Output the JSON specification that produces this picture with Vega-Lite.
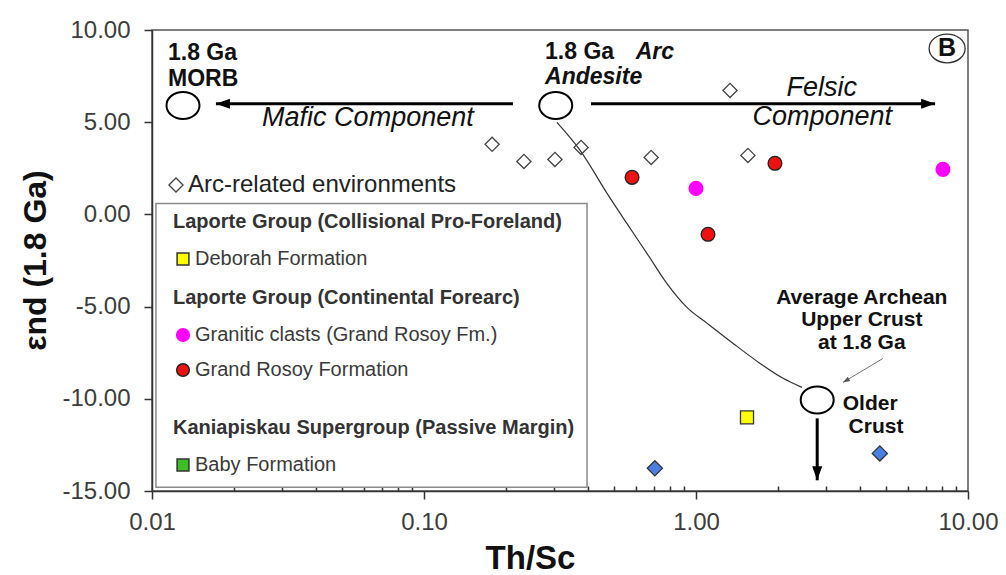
{
  "$schema": "https://vega.github.io/schema/vega-lite/v6.json",
  "width": 816,
  "height": 461,
  "autosize": {"type": "none"},
  "padding": {"left": 152, "top": 30, "right": 38, "bottom": 84},
  "background": "white",
  "config": {"font": "Liberation Sans", "view": {"stroke": "#555", "strokeWidth": 1.5}},
  "resolve": {"scale": {"fill": "independent", "stroke": "independent"}},
  "datasets": {
    "legendframe": [{"x": 0.01034, "x2": 0.3975, "y": 0.597, "y2": -14.8}],
    "curve": [
      {"x": 0.308, "y": 4.99}, {"x": 0.375, "y": 3.47}, {"x": 0.471, "y": 1.14}, {"x": 0.557, "y": -0.49},
      {"x": 0.66, "y": -2.11}, {"x": 0.781, "y": -3.74}, {"x": 0.926, "y": -5.04}, {"x": 1.1, "y": -5.91},
      {"x": 1.37, "y": -7.0}, {"x": 1.72, "y": -8.08}, {"x": 2.09, "y": -8.89}, {"x": 2.45, "y": -9.38}
    ],
    "arrows": [
      {"arrow": "mafic", "x": 0.2123, "y": 6.0, "x2": 0.01718, "y2": 6.0},
      {"arrow": "felsic", "x": 0.411, "y": 6.0, "x2": 7.57, "y2": 6.0},
      {"arrow": "down", "x": 2.79, "y": -11.06, "x2": 2.79, "y2": -14.42},
      {"arrow": "pointer", "x": 4.87, "y": -7.81, "x2": 3.47, "y2": -9.11}
    ],
    "endmembers": [
      {"name": "1.8 Ga MORB", "x": 0.013, "y": 5.91},
      {"name": "1.8 Ga Arc Andesite", "x": 0.305, "y": 5.91},
      {"name": "Older Crust", "x": 2.79, "y": -10.06}
    ],
    "samples": [
      {"series": "Deborah Formation", "x": 1.54, "y": -11.01},
      {"series": "Granitic clasts (Grand Rosoy Fm.)", "x": 1.0, "y": 1.41},
      {"series": "Granitic clasts (Grand Rosoy Fm.)", "x": 8.09, "y": 2.44},
      {"series": "Grand Rosoy Formation", "x": 0.582, "y": 2.01},
      {"series": "Grand Rosoy Formation", "x": 1.107, "y": -1.08},
      {"series": "Grand Rosoy Formation", "x": 1.951, "y": 2.77}
    ],
    "arc": [
      {"series": "Arc-related environments", "x": 0.178, "y": 3.8},
      {"series": "Arc-related environments", "x": 0.233, "y": 2.87},
      {"series": "Arc-related environments", "x": 0.303, "y": 2.98},
      {"series": "Arc-related environments", "x": 0.378, "y": 3.63},
      {"series": "Arc-related environments", "x": 0.684, "y": 3.09},
      {"series": "Arc-related environments", "x": 1.334, "y": 6.72},
      {"series": "Arc-related environments", "x": 1.552, "y": 3.2}
    ],
    "blue": [
      {"x": 0.706, "y": -13.77},
      {"x": 4.74, "y": -12.96}
    ],
    "bold": [
      {"x": 0.01145, "y": 8.73, "label": "1.8 Ga"},
      {"x": 0.01145, "y": 7.32, "label": "MORB"},
      {"x": 0.2786, "y": 8.79, "label": "1.8 Ga"}
    ],
    "bolditalic": [
      {"x": 0.6, "y": 8.79, "label": "Arc"},
      {"x": 0.2786, "y": 7.43, "label": "Andesite"}
    ],
    "italic": [
      {"x": 0.0622, "y": 5.21, "label": "Mafic Component"},
      {"x": 2.9, "y": 6.83, "label": "Felsic"},
      {"x": 2.91, "y": 5.26, "label": "Component"}
    ],
    "crust": [
      {"x": 4.07, "y": -4.56, "label": "Average Archean"},
      {"x": 4.07, "y": -5.75, "label": "Upper Crust"},
      {"x": 4.07, "y": -7.0, "label": "at 1.8 Ga"},
      {"x": 4.37, "y": -10.3, "label": "Older"},
      {"x": 4.59, "y": -11.55, "label": "Crust"}
    ],
    "panel": [{"x": 8.38, "y": 9.0, "label": "B"}]
  },
  "encoding": {
    "x": {
      "field": "x", "type": "quantitative",
      "scale": {"type": "log", "domain": [0.01, 10], "nice": false},
      "axis": {
        "values": [0.01,0.02,0.03,0.04,0.05,0.06,0.07,0.08,0.09,0.1,0.2,0.3,0.4,0.5,0.6,0.7,0.8,0.9,1,2,3,4,5,6,7,8,9,10],
        "labelExpr": "indexof([0.01,0.1,1,10], datum.value) >= 0 ? format(datum.value, '.2f') : ''",
        "labelOverlap": false, "labelFlush": false,
        "tickSize": {"condition": {"test": "indexof([0.01,0.1,1,10], datum.value) >= 0", "value": 8}, "value": -5},
        "tickColor": "#333", "tickWidth": 1.5, "domainColor": "#333", "domainWidth": 1.5,
        "labelFontSize": 24, "labelColor": "#3c3c3c", "labelPadding": 11,
        "grid": false,
        "title": "Th/Sc", "titleFontSize": 33, "titleFontWeight": "bold", "titleColor": "#111",
        "titleX": 378, "titleY": 67, "titleAlign": "center", "titleBaseline": "middle"
      }
    },
    "y": {
      "field": "y", "type": "quantitative",
      "scale": {"domain": [-15, 10], "nice": false, "zero": false},
      "axis": {
        "values": [-15, -10, -5, 0, 5, 10],
        "labelExpr": "(datum.value < 0 ? '-' : '') + format(abs(datum.value), '.2f')",
        "tickSize": 8, "tickColor": "#333", "tickWidth": 1.5, "domainColor": "#333", "domainWidth": 1.5,
        "labelFontSize": 24, "labelColor": "#3c3c3c", "labelPadding": 14,
        "grid": false,
        "title": "εnd (1.8 Ga)", "titleFontSize": 32, "titleFontWeight": "bold", "titleColor": "#111",
        "titleX": -117, "titleY": 230, "titleAngle": 270, "titleAlign": "center", "titleBaseline": "middle"
      }
    }
  },
  "layer": [
    {
      "data": {"name": "legendframe"},
      "mark": {"type": "rect", "fill": "white", "stroke": "#8a8a8a", "strokeWidth": 1.5},
      "encoding": {"x2": {"field": "x2"}, "y2": {"field": "y2"}}
    },
    {
      "data": {"name": "curve"},
      "mark": {"type": "line", "color": "#333", "strokeWidth": 1.2, "interpolate": "monotone"}
    },
    {
      "data": {"name": "arrows"},
      "transform": [{"filter": "datum.arrow != 'pointer'"}],
      "mark": {"type": "rule", "color": "#000", "strokeWidth": 3},
      "encoding": {"x2": {"field": "x2"}, "y2": {"field": "y2"}}
    },
    {
      "data": {"name": "arrows"},
      "transform": [{"filter": "datum.arrow == 'pointer'"}],
      "mark": {"type": "rule", "color": "#666", "strokeWidth": 0.9},
      "encoding": {"x2": {"field": "x2"}, "y2": {"field": "y2"}}
    },
    {
      "data": {"name": "arrows"},
      "transform": [{"filter": "datum.arrow == 'mafic'"}],
      "mark": {"type": "point", "shape": "M0,0L1,-0.36L1,0.36Z", "size": 784, "filled": true, "color": "#000", "opacity": 1},
      "encoding": {"x": {"field": "x2", "type": "quantitative"}, "y": {"field": "y2", "type": "quantitative"}}
    },
    {
      "data": {"name": "arrows"},
      "transform": [{"filter": "datum.arrow == 'felsic'"}],
      "mark": {"type": "point", "shape": "M0,0L-1,-0.36L-1,0.36Z", "size": 784, "filled": true, "color": "#000", "opacity": 1},
      "encoding": {"x": {"field": "x2", "type": "quantitative"}, "y": {"field": "y2", "type": "quantitative"}}
    },
    {
      "data": {"name": "arrows"},
      "transform": [{"filter": "datum.arrow == 'down'"}],
      "mark": {"type": "point", "shape": "M0,0L-0.36,-1L0.36,-1Z", "size": 784, "filled": true, "color": "#000", "opacity": 1},
      "encoding": {"x": {"field": "x2", "type": "quantitative"}, "y": {"field": "y2", "type": "quantitative"}}
    },
    {
      "data": {"name": "arrows"},
      "transform": [{"filter": "datum.arrow == 'pointer'"}],
      "mark": {"type": "point", "shape": "M0,0L1.04,-0.21L0.68,-0.81Z", "size": 196, "filled": true, "color": "#555", "opacity": 1},
      "encoding": {"x": {"field": "x2", "type": "quantitative"}, "y": {"field": "y2", "type": "quantitative"}}
    },
    {
      "data": {"name": "endmembers"},
      "mark": {"type": "point", "shape": "M-1,0A1,0.82 0 1 1 1,0A1,0.82 0 1 1 -1,0Z", "size": 1089, "filled": true, "fill": "white", "stroke": "#000", "strokeWidth": 2, "opacity": 1}
    },
    {
      "data": {"name": "panel"},
      "mark": {"type": "point", "shape": "M-1,0A1,0.8 0 1 1 1,0A1,0.8 0 1 1 -1,0Z", "size": 1296, "filled": false, "stroke": "#333", "strokeWidth": 1.3, "opacity": 1}
    },
    {
      "data": {"name": "samples"},
      "transform": [{"filter": "datum.series == 'Deborah Formation'"}],
      "mark": {"type": "point", "shape": "square", "filled": true, "size": 170, "strokeWidth": 1.3, "opacity": 1},
      "encoding": {
        "fill": {
          "field": "series", "type": "nominal",
          "scale": {"domain": ["Deborah Formation"], "range": ["#ffff00"]},
          "legend": {
            "title": "Laporte Group (Collisional Pro-Foreland)", "orient": "none", "legendX": 21, "legendY": 182, "padding": 0,
            "titleFontSize": 20, "titleFontWeight": "bold", "titleColor": "#333", "titleLimit": 600, "titlePadding": 17,
            "labelFontSize": 20, "labelColor": "#3a3a3a", "labelLimit": 600, "labelOffset": 2,
            "symbolType": "square", "symbolSize": 140, "symbolStrokeWidth": 1.5, "rowPadding": 15
          }
        },
        "stroke": {
          "field": "series", "type": "nominal",
          "scale": {"domain": ["Deborah Formation"], "range": ["#333333"]}
        }
      }
    },
    {
      "data": {"name": "samples"},
      "transform": [{"filter": "datum.series != 'Deborah Formation'"}],
      "mark": {"type": "point", "shape": "circle", "filled": true, "size": 190, "strokeWidth": 1.3, "opacity": 1},
      "encoding": {
        "fill": {
          "field": "series", "type": "nominal",
          "scale": {"domain": ["Granitic clasts (Grand Rosoy Fm.)", "Grand Rosoy Formation"], "range": ["#ff00ff", "#ee1111"]},
          "legend": {
            "title": "Laporte Group (Continental Forearc)", "orient": "none", "legendX": 21, "legendY": 258, "padding": 0,
            "titleFontSize": 20, "titleFontWeight": "bold", "titleColor": "#333", "titleLimit": 600, "titlePadding": 17,
            "labelFontSize": 20, "labelColor": "#3a3a3a", "labelLimit": 600, "labelOffset": 2,
            "symbolType": "circle", "symbolSize": 160, "symbolStrokeWidth": 1.5, "rowPadding": 15
          }
        },
        "stroke": {
          "field": "series", "type": "nominal",
          "scale": {"domain": ["Granitic clasts (Grand Rosoy Fm.)", "Grand Rosoy Formation"], "range": ["#ff00ff", "#222222"]}
        }
      }
    },
    {
      "data": {"values": []},
      "mark": {"type": "point", "shape": "square", "filled": true, "size": 170, "strokeWidth": 1.3, "opacity": 1},
      "encoding": {
        "fill": {
          "field": "series", "type": "nominal",
          "scale": {"domain": ["Baby Formation"], "range": ["#3dbf26"]},
          "legend": {
            "title": "Kaniapiskau Supergroup (Passive Margin)", "orient": "none", "legendX": 21, "legendY": 388, "padding": 0,
            "titleFontSize": 20, "titleFontWeight": "bold", "titleColor": "#333", "titleLimit": 600, "titlePadding": 17,
            "labelFontSize": 20, "labelColor": "#3a3a3a", "labelLimit": 600, "labelOffset": 2,
            "symbolType": "square", "symbolSize": 140, "symbolStrokeWidth": 1.5, "rowPadding": 15
          }
        },
        "stroke": {
          "field": "series", "type": "nominal",
          "scale": {"domain": ["Baby Formation"], "range": ["#333333"]}
        }
      }
    },
    {
      "data": {"name": "arc"},
      "mark": {"type": "point", "shape": "diamond", "filled": false, "size": 200, "strokeWidth": 1.3, "opacity": 1},
      "encoding": {
        "color": {
          "field": "series", "type": "nominal",
          "scale": {"domain": ["Arc-related environments"], "range": ["#444444"]},
          "legend": {
            "title": null, "orient": "none", "legendX": 12, "legendY": 143, "padding": 0,
            "labelFontSize": 24, "labelColor": "#222", "labelLimit": 600, "labelOffset": 0,
            "symbolType": "diamond", "symbolSize": 200, "symbolStrokeWidth": 1.3
          }
        }
      }
    },
    {
      "data": {"name": "blue"},
      "mark": {"type": "point", "shape": "diamond", "filled": true, "fill": "#4b7ee3", "stroke": "#333", "strokeWidth": 1.3, "size": 230, "opacity": 1}
    },
    {
      "data": {"name": "bold"},
      "mark": {"type": "text", "fontSize": 23, "fontWeight": "bold", "align": "left", "baseline": "middle", "color": "#111"},
      "encoding": {"text": {"field": "label"}}
    },
    {
      "data": {"name": "bolditalic"},
      "mark": {"type": "text", "fontSize": 23, "fontWeight": "bold", "fontStyle": "italic", "align": "left", "baseline": "middle", "color": "#111"},
      "encoding": {"text": {"field": "label"}}
    },
    {
      "data": {"name": "italic"},
      "mark": {"type": "text", "fontSize": 27, "fontStyle": "italic", "align": "center", "baseline": "middle", "color": "#111"},
      "encoding": {"text": {"field": "label"}}
    },
    {
      "data": {"name": "crust"},
      "mark": {"type": "text", "fontSize": 21, "fontWeight": "bold", "align": "center", "baseline": "middle", "color": "#111"},
      "encoding": {"text": {"field": "label"}}
    },
    {
      "data": {"name": "panel"},
      "mark": {"type": "text", "fontSize": 25, "fontWeight": "bold", "align": "center", "baseline": "middle", "color": "#111"},
      "encoding": {"text": {"field": "label"}}
    }
  ]
}
